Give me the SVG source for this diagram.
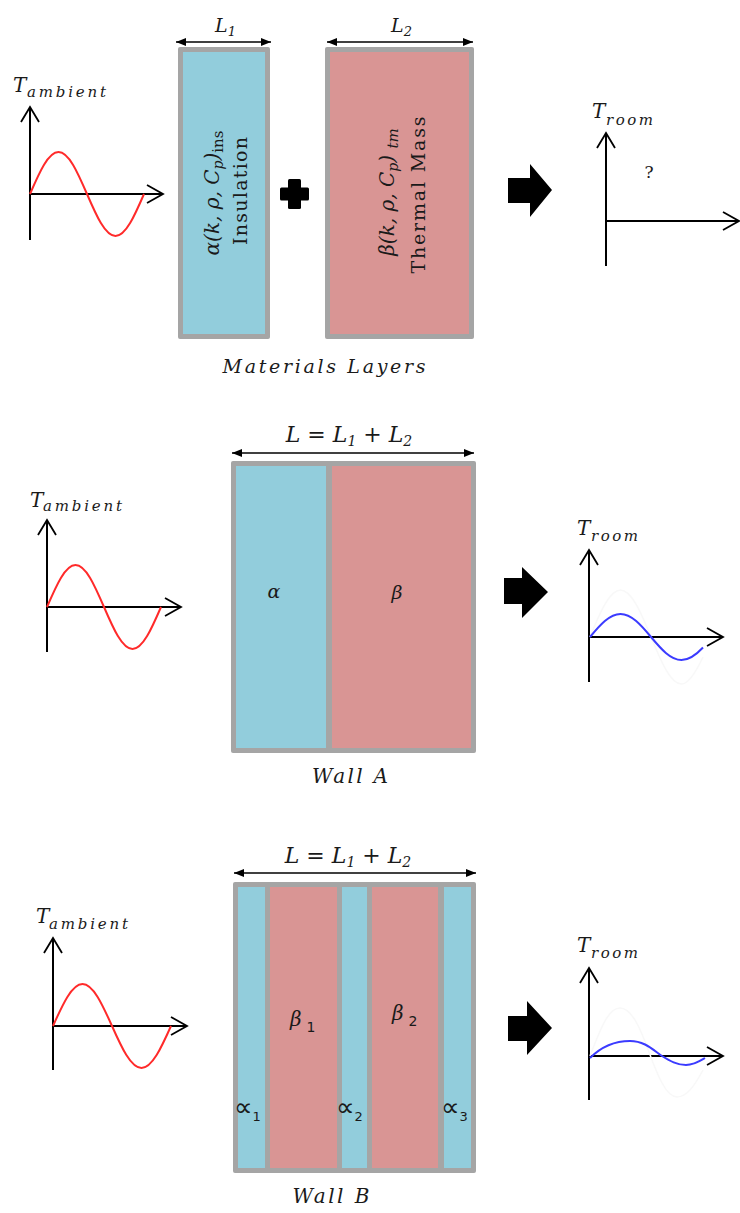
<svg xmlns="http://www.w3.org/2000/svg" width="740" height="1213" viewBox="0 0 740 1213">
<style>
.ax{stroke:#000;stroke-width:2;fill:none}
.chev{stroke:#000;stroke-width:1.8;fill:none;stroke-linejoin:miter}
.red{stroke:#ff2a2a;stroke-width:2;fill:none}
.blue{stroke:#3b3bff;stroke-width:2;fill:none}
.ghost{stroke:#f8f8f8;stroke-width:1.5;fill:none}
.frame{fill:#a5a5a5}
.ins{fill:#92cddc}
.tm{fill:#d99594}
.dim{stroke:#000;stroke-width:1.5;fill:none;marker-start:url(#ah);marker-end:url(#ah)}
.blk{fill:#000}
.m{font-family:"DejaVu Serif","Liberation Serif",serif;font-style:italic;fill:#1a1a1a}
.r{font-family:"DejaVu Serif","Liberation Serif",serif;fill:#1a1a1a}
.s{font-family:"DejaVu Sans","Liberation Sans",sans-serif;fill:#1a1a1a}
</style>
<defs>
<marker id="ah" viewBox="0 0 10 8" refX="10" refY="4" markerWidth="10" markerHeight="8" markerUnits="userSpaceOnUse" orient="auto-start-reverse">
<path d="M0,0 L10,4 L0,8 Z" fill="#000"/>
</marker>
</defs>

<!-- ===== Row 1 ===== -->
<g id="amb1">
<text class="m" x="13" y="92" font-size="20">T</text>
<text class="m" x="27" y="97" font-size="15" textLength="79" lengthAdjust="spacing">ambient</text>
<line class="ax" x1="30" y1="107" x2="30" y2="240"/>
<line class="ax" x1="30" y1="194" x2="163" y2="194"/>
<polyline class="chev" points="21,122 30,107 39,122"/>
<polyline class="chev" points="147,185 163,194 147,203"/>
<path class="red" d="M30,194 C39.3,172.5 48.2,152 58.5,152 C68.8,152 77.7,172.5 87,194 C96.3,215.5 105.2,236 115.5,236 C125.8,236 134.7,215.5 144,194"/>
</g>

<g id="insulation">
<rect class="frame" x="178" y="47" width="92" height="292" rx="2"/>
<rect class="ins" x="183" y="52" width="82" height="282"/>
<line class="dim" x1="176" y1="42" x2="271" y2="42"/>
<text class="m" x="215" y="32" font-size="19">L<tspan font-size="13" dy="4">1</tspan></text>
<text class="m" transform="translate(219,193) rotate(-90)" text-anchor="middle" font-size="20">α(k, ρ, C<tspan font-size="14" dy="4">p</tspan><tspan dy="-4">)</tspan><tspan font-style="normal" font-size="15" dy="4">ins</tspan></text>
<text class="r" transform="translate(247,191) rotate(-90)" text-anchor="middle" font-size="19" textLength="108" lengthAdjust="spacing">Insulation</text>
</g>

<g id="plus">
<rect class="blk" x="280" y="187.5" width="29" height="13" rx="1.5"/>
<rect class="blk" x="288" y="179" width="13" height="30" rx="1.5"/>
</g>

<g id="thermal">
<rect class="frame" x="325" y="47" width="149" height="292" rx="2"/>
<rect class="tm" x="330" y="52" width="139" height="282"/>
<line class="dim" x1="327" y1="42" x2="473" y2="42"/>
<text class="m" x="391" y="32" font-size="19">L<tspan font-size="13" dy="4">2</tspan></text>
<text class="m" transform="translate(394,192) rotate(-90)" text-anchor="middle" font-size="20">β(k, ρ, C<tspan font-size="14" dy="4">p</tspan><tspan dy="-4">) </tspan><tspan font-size="15" dy="4">tm</tspan></text>
<text class="r" transform="translate(425,195) rotate(-90)" text-anchor="middle" font-size="19" textLength="157" lengthAdjust="spacing">Thermal Mass</text>
</g>

<text id="materials" class="m" x="324" y="373" font-size="19" text-anchor="middle" textLength="203" lengthAdjust="spacing">Materials Layers</text>

<g id="arrow1"><polygon class="blk" points="508,178 530,178 530,164 552,190 530,217 530,203 508,203"/></g>

<g id="room1">
<text class="m" x="592" y="118" font-size="20">T</text>
<text class="m" x="606" y="125" font-size="15" textLength="47" lengthAdjust="spacing">room</text>
<line class="ax" x1="606" y1="133" x2="606" y2="266"/>
<line class="ax" x1="606" y1="221" x2="739" y2="221"/>
<polyline class="chev" points="597,148 606,133 615,148"/>
<polyline class="chev" points="723,212 739,221 723,230"/>
<text class="r" x="649" y="178" font-size="17" text-anchor="middle">?</text>
</g>

<!-- ===== Row 2 ===== -->
<g id="amb2">
<text class="m" x="30" y="507" font-size="20">T</text>
<text class="m" x="43" y="511" font-size="15" textLength="79" lengthAdjust="spacing">ambient</text>
<line class="ax" x1="47" y1="520" x2="47" y2="652"/>
<line class="ax" x1="47" y1="607" x2="181" y2="607"/>
<polyline class="chev" points="38,535 47,520 56,535"/>
<polyline class="chev" points="165,598 181,607 165,616"/>
<path class="red" d="M47,607 C56.3,585.5 65.2,565 75.5,565 C85.8,565 94.7,585.5 104,607 C113.3,628.5 122.2,649 132.5,649 C142.8,649 151.7,628.5 161,607"/>
</g>

<g id="wallA">
<rect class="frame" x="231" y="461" width="245" height="292" rx="2"/>
<rect class="ins" x="236" y="466" width="90" height="282"/>
<rect class="tm" x="332" y="466" width="139" height="282"/>
<line class="dim" x1="232" y1="453" x2="474" y2="453"/>
<text class="m" x="349" y="442" font-size="22" text-anchor="middle">L = L<tspan font-size="14" dy="4">1</tspan><tspan dy="-4"> +  L</tspan><tspan font-size="14" dy="4">2</tspan></text>
<text class="m" x="274" y="598" font-size="19" text-anchor="middle">α</text>
<text class="m" x="397" y="599" font-size="19" text-anchor="middle">β</text>
<text class="m" x="350" y="783" font-size="20" text-anchor="middle" textLength="76" lengthAdjust="spacing">Wall A</text>
</g>

<g id="arrow2"><polygon class="blk" points="504,578 522,578 522,567 548,592 522,618 522,604 504,604"/></g>

<g id="room2">
<text class="m" x="577" y="535" font-size="20">T</text>
<text class="m" x="591" y="541" font-size="15" textLength="47" lengthAdjust="spacing">room</text>
<line class="ax" x1="589" y1="550" x2="589" y2="682"/>
<line class="ax" x1="589" y1="637" x2="723" y2="637"/>
<polyline class="chev" points="580,565 589,550 598,565"/>
<polyline class="chev" points="707,628 723,637 707,646"/>
<path class="ghost" d="M590,637 C599.9,612.9 609.5,590 620.5,590 C631.5,590 641.1,612.9 651,637 C660.9,661.1 670.5,684 681.5,684 C689,684 696,672 703,657"/>
<path class="blue" d="M590,637 C599.9,625.2 609.5,614 620.5,614 C631.5,614 641.1,625.2 651,637 C660.9,648.8 670.5,660 681.5,660 C689,660 696,655 703,647.5"/>
</g>

<!-- ===== Row 3 ===== -->
<g id="amb3">
<text class="m" x="36" y="923" font-size="20">T</text>
<text class="m" x="49" y="929" font-size="15" textLength="79" lengthAdjust="spacing">ambient</text>
<line class="ax" x1="53" y1="938" x2="53" y2="1070"/>
<line class="ax" x1="53" y1="1026" x2="187" y2="1026"/>
<polyline class="chev" points="44,953 53,938 62,953"/>
<polyline class="chev" points="171,1017 187,1026 171,1035"/>
<path class="red" d="M53,1026 C62.6,1004.5 71.9,984 82.5,984 C93.1,984 102.4,1004.5 112,1026 C121.6,1047.5 130.9,1068 141.5,1068 C152.1,1068 161.4,1047.5 171,1026"/>
</g>

<g id="wallB">
<rect class="frame" x="233" y="882" width="243" height="291" rx="2"/>
<rect class="ins" x="238" y="887" width="27" height="281"/>
<rect class="tm" x="270" y="887" width="67" height="281"/>
<rect class="ins" x="342" y="887" width="25" height="281"/>
<rect class="tm" x="372" y="887" width="66" height="281"/>
<rect class="ins" x="444" y="887" width="27" height="281"/>
<line class="dim" x1="234" y1="873" x2="476" y2="873"/>
<text class="m" x="348" y="863" font-size="22" text-anchor="middle">L = L<tspan font-size="14" dy="4">1</tspan><tspan dy="-4"> +  L</tspan><tspan font-size="14" dy="4">2</tspan></text>
<text class="m" x="290" y="1026" font-size="20">β<tspan class="s" font-style="normal" font-size="14" dx="5" dy="6">1</tspan></text>
<text class="m" x="392" y="1020" font-size="20">β<tspan class="s" font-style="normal" font-size="14" dx="5" dy="6">2</tspan></text>
<text class="s" x="234" y="1116" font-size="26">∝<tspan font-size="13" dy="5">1</tspan></text>
<text class="s" x="336" y="1116" font-size="26">∝<tspan font-size="13" dy="5">2</tspan></text>
<text class="s" x="441" y="1116" font-size="26">∝<tspan font-size="13" dy="5">3</tspan></text>
<text class="m" x="331" y="1203" font-size="20" text-anchor="middle" textLength="77" lengthAdjust="spacing">Wall B</text>
</g>

<g id="arrow3"><polygon class="blk" points="508,1016 527,1016 527,1001 552,1028 527,1055 527,1041 508,1041"/></g>

<g id="room3">
<text class="m" x="577" y="952" font-size="20">T</text>
<text class="m" x="591" y="958" font-size="15" textLength="47" lengthAdjust="spacing">room</text>
<line class="ax" x1="589" y1="968" x2="589" y2="1100"/>
<line class="ax" x1="589" y1="1056" x2="723" y2="1056"/>
<polyline class="chev" points="580,983 589,968 598,983"/>
<polyline class="chev" points="707,1047 723,1056 707,1065"/>
<path class="ghost" d="M590,1056 C600,1030 608,1008 620,1008 C632,1008 641,1030 649,1052 C657,1074 666,1097 677,1097 C687,1097 695,1085 703,1070"/>
<path class="blue" d="M590,1058 C600,1048 613,1041 630,1041 C645,1041 653,1050 662,1056 C670,1061 677,1065 686,1065 C694,1065 700,1061 705,1058"/>
</g>
</svg>
